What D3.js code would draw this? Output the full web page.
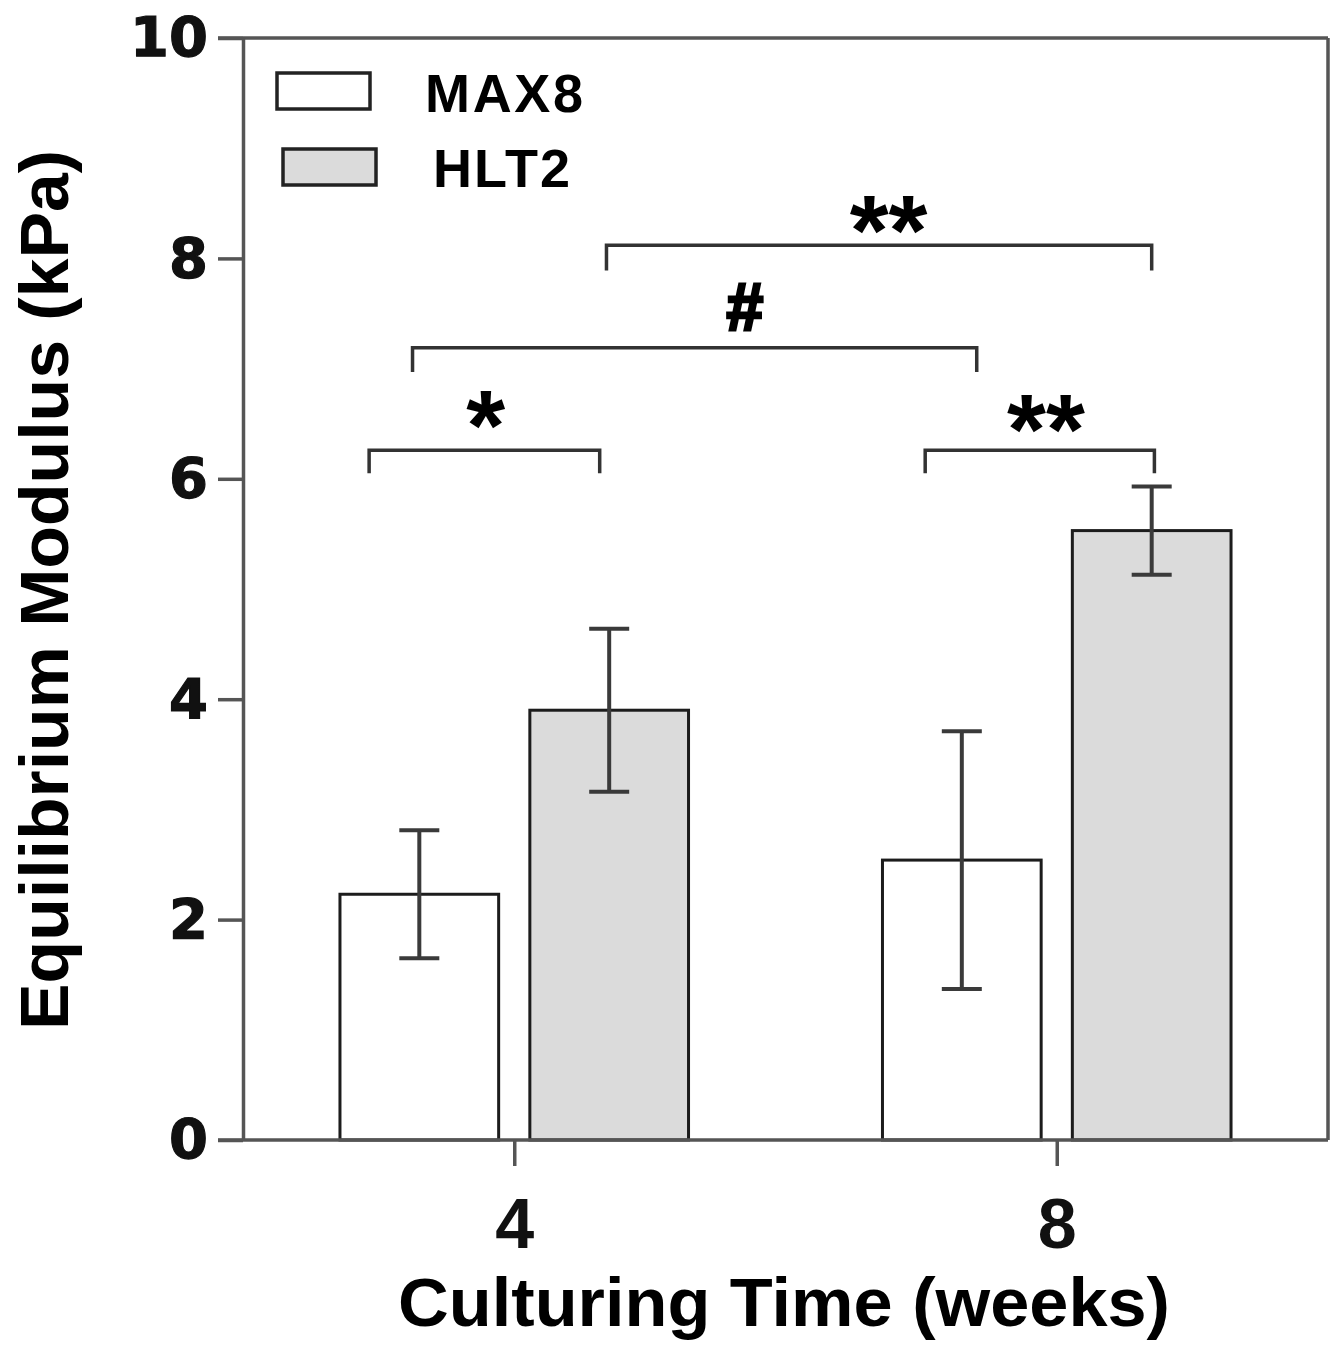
<!DOCTYPE html>
<html>
<head>
<meta charset="utf-8">
<script src="https://cdn.jsdelivr.net/npm/d3@7"></script>
<style>
  body { margin: 0; background: #fff; }
  svg { display: block; }
</style>
</head>
<body>
<svg id="Viz"></svg>
<script>
width = 1339,
height = 1347;

// data
var weeks = [4, 8];
var series = ["MAX8", "HLT2"];
var max8 = [2.23, 2.54];
var max8Err = [0.58, 1.17];
var hlt2 = [3.90, 5.53];
var hlt2Err = [0.74, 0.40];
var yTicks = [0, 2, 4, 6, 8, 10];

// significance brackets (x in weeks, y in kPa)
var brackets = [
  { x1: 4.68, x2: 8.70, y: 8.12, drop: 0.23, label: "**", lx: 6.76, ly: 7.94 },
  { x1: 3.25, x2: 7.41, y: 7.19, drop: 0.22, label: "#",  lx: 5.70, ly: 7.35 },
  { x1: 2.93, x2: 4.63, y: 6.26, drop: 0.21, label: "*",  lx: 3.79, ly: 6.17 },
  { x1: 7.03, x2: 8.72, y: 6.26, drop: 0.21, label: "**", lx: 7.92, ly: 6.13 }
];

var plotLeft = 243, plotRight = 1328, plotTop = 38, plotBottom = 1140;

var svg = d3.select("#Viz").attr("width", width).attr("height", height);

var x = d3.scaleLinear().domain([2, 10]).range([plotLeft, plotRight]);
var y = d3.scaleLinear().domain([0, 10]).range([plotBottom, plotTop]);

var barOffset = 0.7, barWidth = 1.17;
var fills = { MAX8: "#ffffff", HLT2: "#dbdbdb" };

var rows = [];
weeks.forEach(function(w, i) {
  rows.push({ week: w, s: "MAX8", v: max8[i], e: max8Err[i], off: -barOffset });
  rows.push({ week: w, s: "HLT2", v: hlt2[i], e: hlt2Err[i], off: barOffset });
});

// frame (top + right)
svg.append("line")
  .attr("x1", x(2) - 25).attr("x2", x(10)).attr("y1", y(10)).attr("y2", y(10))
  .style("stroke", "#555").style("stroke-width", 3.5);
svg.append("line")
  .attr("x1", x(10)).attr("x2", x(10)).attr("y1", y(10)).attr("y2", y(0))
  .style("stroke", "#555").style("stroke-width", 3.5);

// bars
svg.append("g")
  .selectAll("rect")
  .data(rows)
  .enter()
  .append("rect")
    .attr("x", function(d){ return x(d.week + d.off - barWidth / 2) })
    .attr("width", function(d){ return x(barWidth) - x(0) })
    .attr("y", function(d){ return y(d.v) })
    .attr("height", function(d){ return y(0) - y(d.v) })
    .attr("fill", function(d){ return fills[d.s] })
    .style("stroke", "#1c1c1c")
    .style("stroke-width", 3);

// error bars
var eb = svg.append("g").style("stroke", "#3a3a3a").style("stroke-width", 4);
eb.selectAll("line.v")
  .data(rows).enter().append("line")
    .attr("x1", function(d){ return x(d.week + d.off) })
    .attr("x2", function(d){ return x(d.week + d.off) })
    .attr("y1", function(d){ return y(d.v + d.e) })
    .attr("y2", function(d){ return y(d.v - d.e) });
[1, -1].forEach(function(sgn) {
  eb.selectAll("line.c" + sgn)
    .data(rows).enter().append("line")
      .attr("x1", function(d){ return x(d.week + d.off) - 20 })
      .attr("x2", function(d){ return x(d.week + d.off) + 20 })
      .attr("y1", function(d){ return y(d.v + sgn * d.e) })
      .attr("y2", function(d){ return y(d.v + sgn * d.e) });
});

// y axis
var yAxis = svg.append("g")
  .attr("transform", "translate(" + plotLeft + ",0)")
  .call(d3.axisLeft(y).tickValues(yTicks).tickSize(25).tickSizeOuter(0).tickPadding(10));
yAxis.selectAll("path, line").style("stroke", "#555").style("stroke-width", 3.5);
yAxis.selectAll("text")
  .style("font-family", "DejaVu Sans")
  .style("font-weight", "bold")
  .style("font-size", "56px")
  .attr("fill", "#111")
  .style("stroke", "#111")
  .style("stroke-width", 1.2);

// x axis
var xAxis = svg.append("g")
  .attr("transform", "translate(0," + plotBottom + ")")
  .call(d3.axisBottom(x).tickValues(weeks).tickSize(26).tickSizeOuter(0).tickPadding(32));
xAxis.select("path").attr("d", "M" + (plotLeft - 25) + ",0H" + plotRight);
xAxis.selectAll("path, line").style("stroke", "#555").style("stroke-width", 3.5);
xAxis.selectAll("text")
  .style("font-family", "Liberation Sans, Arial, sans-serif")
  .style("font-weight", "bold")
  .style("font-size", "70px")
  .attr("fill", "#111");

// brackets
var br = svg.append("g");
br.selectAll("path")
  .data(brackets).enter().append("path")
    .attr("d", function(d){
      return "M" + x(d.x1) + "," + y(d.y - d.drop) + "V" + y(d.y) + "H" + x(d.x2) + "V" + y(d.y - d.drop);
    })
    .attr("fill", "none")
    .style("stroke", "#333")
    .style("stroke-width", 3.5);
br.selectAll("text")
  .data(brackets).enter().append("text")
    .attr("x", function(d){ return x(d.lx) })
    .attr("y", function(d){ return y(d.ly) })
    .attr("text-anchor", "middle")
    .style("font-family", "Liberation Sans, Arial, sans-serif")
    .style("font-weight", "bold")
    .style("font-size", function(d){ return d.label == "#" ? "66px" : "100px" })
    .style("stroke", "#000")
    .style("stroke-width", function(d){ return d.label == "#" ? 3 : 0 })
    .attr("fill", "#000")
    .text(function(d){ return d.label });

// legend
var lg = svg.append("g");
series.forEach(function(s, i) {
  lg.append("rect")
    .attr("x", 277 + i * 6).attr("y", 73 + i * 76)
    .attr("width", 93).attr("height", 36)
    .attr("fill", fills[s])
    .style("stroke", "#222").style("stroke-width", 3.5);
  lg.append("text")
    .attr("x", 425 + i * 8).attr("y", 112 + i * 75)
    .style("font-family", "Liberation Sans, Arial, sans-serif")
    .style("font-weight", "bold")
    .style("font-size", "54px")
    .attr("textLength", i == 0 ? 158 : 137)
    .attr("lengthAdjust", "spacing")
    .attr("fill", "#000")
    .text(s);
});

// axis titles
svg.append("text")
  .attr("x", 784).attr("y", 1326)
  .attr("text-anchor", "middle")
  .attr("textLength", 772).attr("lengthAdjust", "spacingAndGlyphs")
  .style("font-family", "Liberation Sans, Arial, sans-serif")
  .style("font-weight", "bold")
  .style("font-size", "68px")
  .attr("fill", "#000")
  .text("Culturing Time (weeks)");

svg.append("text")
  .attr("transform", "translate(68,590) rotate(-90)")
  .attr("text-anchor", "middle")
  .attr("textLength", 880).attr("lengthAdjust", "spacingAndGlyphs")
  .style("font-family", "Liberation Sans, Arial, sans-serif")
  .style("font-weight", "bold")
  .style("font-size", "68px")
  .attr("fill", "#000")
  .text("Equilibrium Modulus (kPa)");
</script>
</body>
</html>
